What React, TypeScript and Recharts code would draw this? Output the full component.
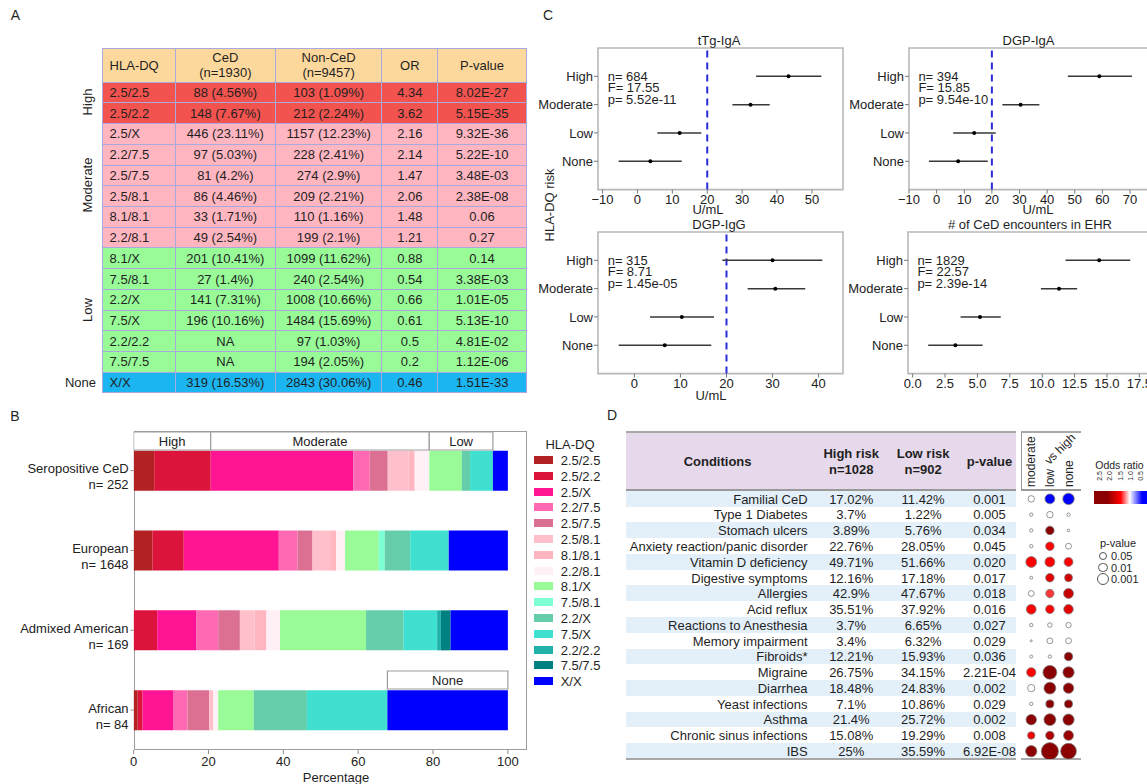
import React from 'react';
import {
  BarChart,
  Bar,
  XAxis,
  YAxis,
  ZAxis,
  LabelList,
  ReferenceArea,
  ReferenceLine,
  ScatterChart,
  Scatter,
  ErrorBar,
  Cell,
} from 'recharts';

const FONT = '"Liberation Sans", Arial, Helvetica, sans-serif';
const INK = '#1f1f1f';

// ---- panel A / shared genotype data ----
const genotypes = ['2.5/2.5', '2.5/2.2', '2.5/X', '2.2/7.5', '2.5/7.5', '2.5/8.1', '8.1/8.1', '2.2/8.1', '8.1/X', '7.5/8.1', '2.2/X', '7.5/X', '2.2/2.2', '7.5/7.5', 'X/X'];
const cedCounts = ['88 (4.56%)', '148 (7.67%)', '446 (23.11%)', '97 (5.03%)', '81 (4.2%)', '86 (4.46%)', '33 (1.71%)', '49 (2.54%)', '201 (10.41%)', '27 (1.4%)', '141 (7.31%)', '196 (10.16%)', 'NA', 'NA', '319 (16.53%)'];
const nonCedCounts = ['103 (1.09%)', '212 (2.24%)', '1157 (12.23%)', '228 (2.41%)', '274 (2.9%)', '209 (2.21%)', '110 (1.16%)', '199 (2.1%)', '1099 (11.62%)', '240 (2.54%)', '1008 (10.66%)', '1484 (15.69%)', '97 (1.03%)', '194 (2.05%)', '2843 (30.06%)'];
const oddsRatios = ['4.34', '3.62', '2.16', '2.14', '1.47', '2.06', '1.48', '1.21', '0.88', '0.54', '0.66', '0.61', '0.5', '0.2', '0.46'];
const genoPvals = ['8.02E-27', '5.15E-35', '9.32E-36', '5.22E-10', '3.48E-03', '2.38E-08', '0.06', '0.27', '0.14', '3.38E-03', '1.01E-05', '5.13E-10', '4.81E-02', '1.12E-06', '1.51E-33'];
const groupNames = ['High', 'Moderate', 'Low', 'None'];
const groupSizes = [2, 6, 6, 1];

// ---- panel B ----
const popNames = ['Seropositive CeD', 'European', 'Admixed American', 'African'];
const popN = [252, 1648, 169, 84];
const seroPct = [5.5, 15.1, 38.1, 4.4, 4.8, 5.6, 1.6, 3.9, 8.7, 0, 2.2, 6.1, 0, 0, 4.0];
const europeanPct = [5.0, 8.4, 25.4, 5.0, 4.0, 4.7, 1.6, 2.4, 9.0, 1.6, 6.8, 10.3, 0, 0, 15.8];
const admixedPct = [0, 6.3, 10.4, 5.9, 5.8, 3.9, 3.2, 3.6, 23.0, 0, 10.0, 9.0, 1.0, 2.6, 15.3];
const africanPct = [1.1, 1.3, 8.3, 3.7, 5.8, 1.1, 0, 1.3, 9.5, 0, 14.2, 21.5, 0, 0, 32.2];
const pctTicks = [0, 20, 40, 60, 80, 100];

// ---- panel C ----
const riskLevels = ['High', 'Moderate', 'Low', 'None'];
const ttgMean = [43.3, 32.4, 12.1, 3.7];
const ttgLo = [34.0, 27.2, 5.7, -5.4];
const ttgHi = [52.7, 37.9, 18.3, 12.7];
const dgpIgaMean = [58.9, 30.4, 13.6, 7.8];
const dgpIgaLo = [47.5, 23.8, 6.0, -2.8];
const dgpIgaHi = [70.7, 37.2, 21.4, 18.5];
const dgpIggMean = [30.0, 30.6, 10.3, 6.6];
const dgpIggLo = [19.1, 24.6, 3.4, -3.4];
const dgpIggHi = [40.8, 37.1, 17.3, 16.7];
const encMean = [14.4, 11.3, 5.2, 3.3];
const encLo = [11.8, 9.9, 3.7, 1.2];
const encHi = [16.8, 12.7, 6.8, 5.4];

// ---- panel D ----
const conditions = ['Familial CeD', 'Type 1 Diabetes', 'Stomach ulcers', 'Anxiety reaction/panic disorder', 'Vitamin D deficiency', 'Digestive symptoms', 'Allergies', 'Acid reflux', 'Reactions to Anesthesia', 'Memory impairment', 'Fibroids*', 'Migraine', 'Diarrhea', 'Yeast infections', 'Asthma', 'Chronic sinus infections', 'IBS'];
const highRisk = ['17.02%', '3.7%', '3.89%', '22.76%', '49.71%', '12.16%', '42.9%', '35.51%', '3.7%', '3.4%', '12.21%', '26.75%', '18.48%', '7.1%', '21.4%', '15.08%', '25%'];
const lowRisk = ['11.42%', '1.22%', '5.76%', '28.05%', '51.66%', '17.18%', '47.67%', '37.92%', '6.65%', '6.32%', '15.93%', '34.15%', '24.83%', '10.86%', '25.72%', '19.29%', '35.59%'];
const condPvals = ['0.001', '0.005', '0.034', '0.045', '0.020', '0.017', '0.018', '0.016', '0.027', '0.029', '0.036', '2.21E-04', '0.002', '0.029', '0.002', '0.008', '6.92E-08'];
const moderateOR = [1.0, 1.0, 1.0, 1.0, 1.45, 1.0, 1.0, 1.45, 1.0, 1.0, 1.0, 1.45, 1.0, 1.0, 2.2, 1.5, 2.2];
const moderateP = [0.13, 0.58, 0.58, 0.58, 0.0034, 0.66, 0.19, 0.01, 0.58, 0.83, 0.66, 0.016, 0.076, 0.58, 0.0051, 0.07, 0.0022];
const lowOR = [0.4, 1.0, 2.4, 1.45, 1.45, 1.6, 1.35, 1.45, 1.0, 1.0, 1.0, 2.3, 2.3, 2.1, 2.3, 1.9, 2.4];
const lowP = [0.009, 0.13, 0.031, 0.031, 0.009, 0.031, 0.036, 0.03, 0.37, 0.19, 0.58, 0.0001, 0.0011, 0.045, 0.0011, 0.031, 6.6e-7];
const noneOR = [0.4, 1.0, 1.0, 1.0, 1.45, 1.7, 1.75, 1.6, 1.0, 1.0, 2.1, 2.1, 2.1, 2.2, 2.2, 2.0, 2.4];
const noneP = [0.0018, 0.58, 0.72, 0.19, 0.022, 0.049, 0.009, 0.013, 0.25, 0.19, 0.031, 0.0022, 0.0051, 0.045, 0.0022, 0.009, 6e-6];
const compareCols = ['moderate', 'low', 'none'];
const orTicks = [2.5, 2.0, 1.5, 1.0, 0.5];
const pLegend = [0.05, 0.01, 0.001];

const genoColors = ['#b22222', '#dc143c', '#ff1493', '#ff69b4', '#db7093', '#ffc0cb', '#ffb6c1', '#fff0f5', '#98fb98', '#7fffd4', '#66cdaa', '#40e0d0', '#20b2aa', '#008080', '#0000ff'];
const groupFills = ['#f3534f', '#ffb6c1', '#98fb98', '#1bb5f1'];
const orStops: [number, string][] = [[0.4, '#0000ff'], [1.0, '#ffffff'], [1.45, '#ff0000'], [2.1, '#8b0000']];

const hex = (c: string) => [1, 3, 5].map((k) => parseInt(c.slice(k, k + 2), 16));
function orColor(v: number) {
  if (v <= orStops[0][0]) return orStops[0][1];
  for (let i = 1; i < orStops.length; i++) {
    const [v1, c1] = orStops[i];
    const [v0, c0] = orStops[i - 1];
    if (v <= v1) {
      const t = (v - v0) / (v1 - v0);
      const a = hex(c0), b = hex(c1);
      return `rgb(${a.map((x, k) => Math.round(x + (b[k] - x) * t)).join(',')})`;
    }
  }
  return orStops[orStops.length - 1][1];
}

const minus = (v: number) => (v < 0 ? `\u2212${-v}` : `${v}`);

const T = ({ x, y, size = 13, anchor = 'middle', weight = 400, rot = 0, children }: any) => {
  const tx = anchor === 'start' ? '0' : anchor === 'end' ? '-100%' : '-50%';
  return (
    <div
      style={{
        position: 'absolute',
        left: x,
        top: y,
        transform: `translate(${tx}, -50%)${rot ? ` rotate(${rot}deg)` : ''}`,
        fontSize: size,
        fontWeight: weight,
        lineHeight: 1,
        whiteSpace: 'nowrap',
      }}
    >
      {children}
    </div>
  );
};

// text that starts at (x, y) and reads bottom-to-top
const VText = ({ x, y, size = 12, children }: any) => (
  <div
    style={{
      position: 'absolute',
      left: x,
      top: y,
      transformOrigin: '0 0',
      transform: 'rotate(-90deg) translateY(-50%)',
      fontSize: size,
      lineHeight: 1,
      whiteSpace: 'nowrap',
    }}
  >
    {children}
  </div>
);

const Line = ({ x1, x2, y, w = 2, color = '#a8a8a8' }: any) => (
  <div style={{ position: 'absolute', left: x1, top: y - w / 2, width: x2 - x1, height: w, background: color }} />
);

// ---------------- Panel A ----------------
const aCols = [73.3, 99.9, 106.7, 55.8, 88.5];
const A_LEFT = 101.6;
const A_TOP = 48.3;
const A_HEAD = 33.4;
const A_ROW = 20.73;
const A_GRID = '#a9a9df';

function TableA() {
  const rowGroup = groupSizes.flatMap((n, g) => Array(n).fill(g));
  const cell = (content: any, bg: string, left = false, key?: string) => (
    <div
      key={key}
      style={{
        boxSizing: 'border-box',
        background: bg,
        borderRight: `1px solid ${A_GRID}`,
        borderBottom: `1px solid ${A_GRID}`,
        display: 'flex',
        alignItems: 'center',
        justifyContent: left ? 'flex-start' : 'center',
        paddingLeft: left ? 7 : 0,
        fontSize: 13,
        lineHeight: '15px',
        textAlign: 'center',
        whiteSpace: 'nowrap',
      }}
    >
      {content}
    </div>
  );
  const head = '#fdd89c';
  let start = 0;
  const groupLabels = groupNames.map((g, gi) => {
    const cy = A_TOP + A_HEAD + (start + groupSizes[gi] / 2) * A_ROW;
    start += groupSizes[gi];
    return g === 'None' ? (
      <T key={g} x={96} y={cy} anchor="end">{g}</T>
    ) : (
      <T key={g} x={87} y={cy} rot={-90}>{g}</T>
    );
  });
  return (
    <>
      <div
        style={{
          position: 'absolute',
          left: A_LEFT,
          top: A_TOP,
          display: 'grid',
          gridTemplateColumns: aCols.map((w) => `${w}px`).join(' '),
          gridTemplateRows: `${A_HEAD}px repeat(${genotypes.length}, ${A_ROW}px)`,
          borderLeft: `1px solid ${A_GRID}`,
          borderTop: `1px solid ${A_GRID}`,
        }}
      >
        {cell('HLA-DQ', head, true, 'h0')}
        {cell(<span>CeD<br />(n=1930)</span>, head, false, 'h1')}
        {cell(<span>Non-CeD<br />(n=9457)</span>, head, false, 'h2')}
        {cell('OR', head, false, 'h3')}
        {cell('P-value', head, false, 'h4')}
        {genotypes.map((g, i) => {
          const bg = groupFills[rowGroup[i]];
          return [
            cell(g, bg, true, `a${i}`),
            cell(cedCounts[i], bg, false, `b${i}`),
            cell(nonCedCounts[i], bg, false, `c${i}`),
            cell(oddsRatios[i], bg, false, `d${i}`),
            cell(genoPvals[i], bg, false, `e${i}`),
          ];
        })}
      </div>
      {groupLabels}
    </>
  );
}

// ---------------- Panel B ----------------
const B_W = 560;
const B_LEFT_AX = 133.6;
const B_RIGHT = 33.4;
const B_TOP = 400;
const B_PLOT_TOP = 30.7;
const B_PLOT_H = 319.3;
const STRIP_H = 20;

const popPct = [seroPct, europeanPct, admixedPct, africanPct];
const popRows = popNames.map((name, r) => {
  const row: any = { name };
  popPct[r].forEach((v, i) => (row[`g${i}`] = v));
  return row;
});
const sumRange = (arr: number[], a: number, b: number) => arr.slice(a, b).reduce((s, v) => s + v, 0);

const PopTick = (props: any) => {
  const { x, y, payload } = props;
  const i = popNames.indexOf(payload.value);
  return (
    <g fontFamily={FONT} fontSize={13} fill="#222">
      <text x={x} y={y - 2} textAnchor="end" dominantBaseline="central">{payload.value}</text>
      <text x={x} y={y + 14} textAnchor="end" dominantBaseline="central">{`n= ${popN[i]}`}</text>
    </g>
  );
};

// a one-row stacked bar on the same x scale, used for the risk-group header strips
function StripChart({ top, parts, labels, shown }: any) {
  const row: any = { name: 'strip' };
  parts.forEach((v: number, i: number) => {
    row[`s${i}`] = v;
    row[`l${i}`] = labels[i];
  });
  return (
    <div style={{ position: 'absolute', left: 0, top: top - 2 }}>
      <BarChart
        layout="vertical"
        width={B_W}
        height={STRIP_H + 4}
        data={[row]}
        margin={{ top: 2, right: B_RIGHT, bottom: 2, left: B_LEFT_AX }}
        barSize={STRIP_H}
        barCategoryGap={0}
      >
        <XAxis type="number" domain={[0, 105]} hide allowDataOverflow />
        <YAxis type="category" dataKey="name" hide />
        {parts.map((v: number, i: number) => (
          <Bar
            key={i}
            dataKey={`s${i}`}
            stackId="k"
            fill={shown[i] ? '#ffffff' : 'none'}
            stroke={shown[i] ? '#9d9d9d' : 'none'}
            strokeWidth={1.2}
            isAnimationActive={false}
          >
            {shown[i] && (
              <LabelList dataKey={`l${i}`} position="center" fill="#222" fontSize={13} fontFamily={FONT} />
            )}
          </Bar>
        ))}
      </BarChart>
    </div>
  );
}

function PanelB() {
  const bandH = B_PLOT_H / popNames.length;
  const plotTop = B_TOP + B_PLOT_TOP;
  return (
    <>
      <div
        style={{
          position: 'absolute',
          left: B_LEFT_AX,
          top: plotTop,
          width: B_W - B_LEFT_AX - B_RIGHT,
          height: B_PLOT_H,
          boxSizing: 'border-box',
          border: '1.3px solid #9d9d9d',
        }}
      />
      <div style={{ position: 'absolute', left: 0, top: B_TOP }}>
        <BarChart
          layout="vertical"
          width={B_W}
          height={384}
          data={popRows}
          margin={{ top: B_PLOT_TOP, right: B_RIGHT, bottom: 0, left: 0 }}
          barSize={40}
        >
          <XAxis
            type="number"
            domain={[0, 105]}
            ticks={pctTicks}
            allowDataOverflow
            interval={0}
            height={34}
            tickSize={4}
            tickMargin={3}
            axisLine={false}
            tickLine={{ stroke: '#888' }}
            tick={{ fontSize: 13, fill: '#222', fontFamily: FONT }}
          />
          <YAxis
            type="category"
            dataKey="name"
            width={B_LEFT_AX}
            interval={0}
            tickSize={3}
            tickMargin={2}
            axisLine={false}
            tickLine={{ stroke: '#888' }}
            tick={<PopTick />}
          />
          {genotypes.map((g, i) => (
            <Bar key={g} dataKey={`g${i}`} stackId="s" fill={genoColors[i]} isAnimationActive={false} />
          ))}
        </BarChart>
      </div>
      <StripChart
        top={plotTop}
        parts={[sumRange(seroPct, 0, 2), sumRange(seroPct, 2, 8), sumRange(seroPct, 8, 14)]}
        labels={groupNames.slice(0, 3)}
        shown={[true, true, true]}
      />
      <StripChart
        top={plotTop + 3 * bandH}
        parts={[sumRange(africanPct, 0, 14), sumRange(africanPct, 14, 15)]}
        labels={['', groupNames[3]]}
        shown={[false, true]}
      />
      <T x={336} y={776.7}>Percentage</T>
      <T x={570} y={444}>HLA-DQ</T>
      {genotypes.map((g, i) => {
        const cy = 460 + i * 15.8;
        return (
          <React.Fragment key={g}>
            <div style={{ position: 'absolute', left: 534, top: cy - 4, width: 19, height: 8, background: genoColors[i] }} />
            <T x={560.7} y={cy} anchor="start">{g}</T>
          </React.Fragment>
        );
      })}
    </>
  );
}

// ---------------- Panel C ----------------
const AXIS_W = 70;
const TOP_PAD = 10;
const XAX_H = 24;

const dotShape = (props: any) => <circle cx={props.cx} cy={props.cy} r={2} fill="#000" />;

function ForestPlot(p: any) {
  const data = p.mean.map((m: number, i: number) => ({ x: m, y: i + 1, err: [m - p.lo[i], p.hi[i] - m] }));
  const row1 = p.top + p.h / 5;
  return (
    <>
      <div style={{ position: 'absolute', left: p.left - AXIS_W, top: p.top - TOP_PAD }}>
        <ScatterChart
          width={AXIS_W + p.w + 4}
          height={TOP_PAD + p.h + XAX_H}
          margin={{ top: TOP_PAD, right: 4, bottom: 0, left: 0 }}
        >
          <XAxis
            type="number"
            dataKey="x"
            domain={p.domain}
            ticks={p.ticks}
            allowDataOverflow
            interval={0}
            height={XAX_H}
            tickSize={4}
            tickMargin={1}
            axisLine={false}
            tickLine={{ stroke: '#777' }}
            tick={{ fontSize: 13, fill: '#222', fontFamily: FONT }}
            tickFormatter={p.fmt || minus}
          />
          <YAxis
            type="number"
            dataKey="y"
            domain={[0, 5]}
            ticks={[1, 2, 3, 4]}
            reversed
            allowDataOverflow
            interval={0}
            width={AXIS_W}
            tickSize={4}
            tickMargin={1}
            axisLine={false}
            tickLine={{ stroke: '#777' }}
            tick={{ fontSize: 13, fill: '#222', fontFamily: FONT }}
            tickFormatter={(v: number) => riskLevels[v - 1]}
          />
          <ReferenceArea x1={p.domain[0]} x2={p.domain[1]} y1={0} y2={5} fill="none" stroke="#b8b8b8" strokeWidth={1.6} ifOverflow="visible" />
          {p.refX !== undefined && (
            <ReferenceLine x={p.refX} stroke="#2d2dd8" strokeWidth={2} strokeDasharray="7 5" />
          )}
          <Scatter data={data} isAnimationActive={false} shape={dotShape}>
            <ErrorBar dataKey="err" direction="x" width={0} stroke="#383838" strokeWidth={1.5} isAnimationActive={false} />
          </Scatter>
        </ScatterChart>
      </div>
      <T x={p.titleX} y={p.top - 8}>{p.title}</T>
      {p.stats.map((s: string, i: number) => (
        <T key={s} x={p.left + 9.4} y={row1 - 0.5 + i * 11.5} anchor="start">{s}</T>
      ))}
      {p.unitX !== undefined && <T x={p.unitX} y={p.unitY}>U/mL</T>}
    </>
  );
}

function PanelC() {
  return (
    <>
      <ForestPlot
        left={598.3} top={47.7} w={245} h={141.6}
        domain={[-11.3, 58.9]} ticks={[-10, 0, 10, 20, 30, 40, 50]}
        mean={ttgMean} lo={ttgLo} hi={ttgHi} refX={20}
        title="tTg-IgA" titleX={719} stats={['n= 684', 'F= 17.55', 'p= 5.52e-11']}
        unitX={708} unitY={208.5}
      />
      <ForestPlot
        left={909} top={47.7} w={242} h={141.6}
        domain={[-10, 77.6]} ticks={[-10, 0, 10, 20, 30, 40, 50, 60, 70]}
        mean={dgpIgaMean} lo={dgpIgaLo} hi={dgpIgaHi} refX={20}
        title="DGP-IgA" titleX={1028.5} stats={['n= 394', 'F= 15.85', 'p= 9.54e-10']}
        unitX={1038} unitY={208.5}
      />
      <ForestPlot
        left={598.3} top={232} w={245} h={141.6}
        domain={[-7.9, 45.3]} ticks={[0, 10, 20, 30, 40]}
        mean={dgpIggMean} lo={dgpIggLo} hi={dgpIggHi} refX={20}
        title="DGP-IgG" titleX={719} stats={['n= 315', 'F= 8.71', 'p= 1.45e-05']}
        unitX={711} unitY={395}
      />
      <ForestPlot
        left={908} top={232} w={243} h={141.6}
        domain={[-0.36, 18.4]} ticks={[0, 2.5, 5, 7.5, 10, 12.5, 15, 17.5]}
        fmt={(v: number) => v.toFixed(1)}
        mean={encMean} lo={encLo} hi={encHi}
        title="# of CeD encounters in EHR" titleX={1030} stats={['n= 1829', 'F= 22.57', 'p= 2.39e-14']}
      />
      <T x={549} y={205} rot={-90}>HLA-DQ risk</T>
    </>
  );
}

// ---------------- Panel D ----------------
const D_LEFT = 625.5;
const D_RIGHT = 1016;
const D_TOP = 432.3;
const D_HEAD_B = 489.5;
const D_ROW0 = 490.8;
const D_ROW = 15.77;
const DOT_L = 1021;
const DOT_R = 1081;
const colX = { cond: 807.6, high: 851.2, low: 923.1, p: 989.5 };
const orX = (v: number) => 1099 + (2.5 - v) * 20.5;
const CB_L = 1094;
const CB_W = 60;
const Z_MAX = 6;
const AREA_MAX = 231;

function PanelD() {
  const dotSeries = [
    { name: compareCols[0], or: moderateOR, p: moderateP },
    { name: compareCols[1], or: lowOR, p: lowP },
    { name: compareCols[2], or: noneOR, p: noneP },
  ].map((s, col) => ({
    name: s.name,
    data: conditions.map((c, i) => ({ x: col, y: i, z: -Math.log10(s.p[i]), or: s.or[i] })),
  }));
  const gradient = `linear-gradient(to right, ${[...orStops]
    .reverse()
    .map(([v, c]) => `${c} ${(((orX(v) - CB_L) / CB_W) * 100).toFixed(1)}%`)
    .join(', ')})`;
  const bottom = D_ROW0 + conditions.length * D_ROW;
  return (
    <>
      <div style={{ position: 'absolute', left: D_LEFT, top: D_TOP, width: D_RIGHT - D_LEFT, height: D_HEAD_B - D_TOP, background: '#e6d9eb' }} />
      {conditions.map((c, i) =>
        i % 2 === 0 ? (
          <div key={c} style={{ position: 'absolute', left: D_LEFT, top: D_ROW0 + i * D_ROW, width: D_RIGHT - D_LEFT, height: D_ROW, background: '#e3f0fa' }} />
        ) : null
      )}
      <Line x1={D_LEFT} x2={D_RIGHT} y={D_TOP} />
      <Line x1={D_LEFT} x2={D_RIGHT} y={D_HEAD_B} color="#999" />
      <Line x1={D_LEFT} x2={D_RIGHT} y={bottom} />
      <Line x1={DOT_L} x2={DOT_R} y={D_TOP} />
      <Line x1={DOT_L} x2={DOT_R} y={D_HEAD_B} color="#999" />
      <Line x1={DOT_L} x2={DOT_R} y={bottom} />
      <div style={{ position: 'absolute', left: DOT_L - 0.5, top: D_TOP, width: 1, height: D_HEAD_B - D_TOP, background: '#999' }} />

      <T x={717.6} y={461.3} weight={700}>Conditions</T>
      <T x={colX.high} y={453.3} weight={700}>High risk</T>
      <T x={colX.high} y={469.3} weight={700}>n=1028</T>
      <T x={colX.low} y={453.3} weight={700}>Low risk</T>
      <T x={colX.low} y={469.3} weight={700}>n=902</T>
      <T x={colX.p} y={461.3} weight={700}>p-value</T>
      {conditions.map((c, i) => {
        const cy = D_ROW0 + (i + 0.5) * D_ROW;
        return (
          <React.Fragment key={c}>
            <T x={colX.cond} y={cy} anchor="end">{c}</T>
            <T x={colX.high} y={cy}>{highRisk[i]}</T>
            <T x={colX.low} y={cy}>{lowRisk[i]}</T>
            <T x={colX.p} y={cy}>{condPvals[i]}</T>
          </React.Fragment>
        );
      })}

      {compareCols.map((c, k) => (
        <VText key={c} x={1031.4 + k * 18.65} y={487} size={12}>{c}</VText>
      ))}
      <T x={1060} y={449} size={12} rot={-45}>vs high</T>

      <div style={{ position: 'absolute', left: DOT_L, top: D_ROW0 }}>
        <ScatterChart width={DOT_R - DOT_L} height={conditions.length * D_ROW + 12} margin={{ top: 0, right: 0, bottom: 12, left: 0 }}>
          <XAxis type="number" dataKey="x" domain={[-0.55, 2.67]} hide allowDataOverflow />
          <YAxis type="number" dataKey="y" domain={[-0.5, conditions.length - 0.5]} reversed hide allowDataOverflow />
          <ZAxis type="number" dataKey="z" domain={[0, Z_MAX]} range={[0, AREA_MAX]} />
          {dotSeries.map((s) => (
            <Scatter key={s.name} data={s.data} isAnimationActive={false} stroke="#7a7a7a" strokeWidth={0.8}>
              {s.data.map((d, i) => (
                <Cell key={i} fill={orColor(d.or)} />
              ))}
            </Scatter>
          ))}
        </ScatterChart>
      </div>

      <T x={1119.5} y={464.5} size={10.5}>Odds ratio</T>
      {orTicks.map((v) => (
        <T key={v} x={orX(v)} y={475.5} size={7} rot={-90}>{v.toFixed(1)}</T>
      ))}
      <div style={{ position: 'absolute', left: CB_L, top: 491, width: CB_W, height: 13, background: gradient }} />

      <T x={1100} y={542.5} size={11} anchor="start">p-value</T>
      {pLegend.map((pv, i) => {
        const r = Math.sqrt(((-Math.log10(pv) / Z_MAX) * AREA_MAX) / Math.PI);
        const cy = 556 + i * 11.5;
        return (
          <React.Fragment key={pv}>
            <div
              style={{
                position: 'absolute',
                left: 1103 - r,
                top: cy - r,
                width: 2 * r,
                height: 2 * r,
                boxSizing: 'border-box',
                borderRadius: '50%',
                border: '1px solid #555',
                background: '#fff',
              }}
            />
            <T x={1111} y={cy} size={11} anchor="start">{String(pv)}</T>
          </React.Fragment>
        );
      })}
    </>
  );
}

export default function App() {
  return (
    <div
      style={{
        position: 'absolute',
        left: 0,
        top: 0,
        width: 1147,
        height: 784,
        overflow: 'hidden',
        background: '#fff',
        fontFamily: FONT,
        color: INK,
      }}
    >
      <T x={15.5} y={15} size={14}>A</T>
      <T x={15} y={416} size={14}>B</T>
      <T x={548} y={15} size={14}>C</T>
      <T x={612} y={415} size={14}>D</T>
      <TableA />
      <PanelB />
      <PanelC />
      <PanelD />
    </div>
  );
}
